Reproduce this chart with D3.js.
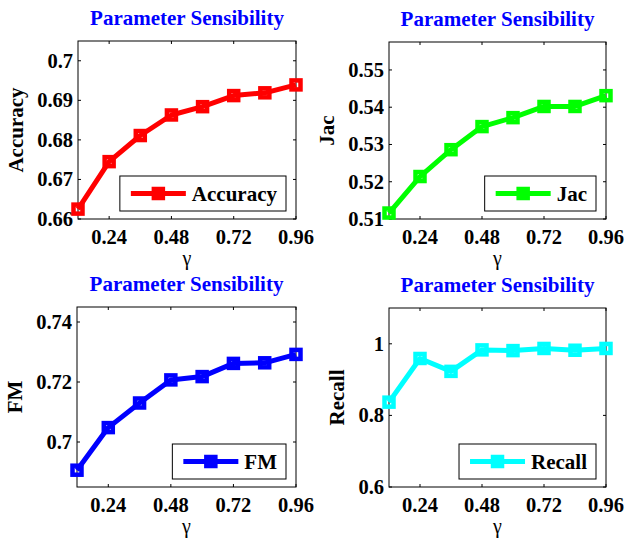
<!DOCTYPE html>
<html>
<head>
<meta charset="utf-8">
<style>
body { margin: 0; background: #fff; }
text { font-family: "Liberation Serif", "Times New Roman", serif; font-weight: bold; }
</style>
</head>
<body>
<svg width="626" height="539"></svg>
<script src="https://cdn.jsdelivr.net/npm/d3@7"></script>
<script>

// gamma values on the x axis
var gamma = [0.12, 0.24, 0.36, 0.48, 0.60, 0.72, 0.84, 0.96];
var xTicks = [0.24, 0.48, 0.72, 0.96];

// one series per panel
var accuracy = [0.6625, 0.6745, 0.6811, 0.6863, 0.6884, 0.6912, 0.6919, 0.6939];
var jac      = [0.5116, 0.5214, 0.5286, 0.5348, 0.5372, 0.5402, 0.5402, 0.5431];
var fm       = [0.6906, 0.7048, 0.7130, 0.7207, 0.7218, 0.7262, 0.7264, 0.7292];
var recall   = [0.837, 0.959, 0.923, 0.983, 0.981, 0.987, 0.982, 0.987];

// y tick labels per panel
var accTicks = [0.66, 0.67, 0.68, 0.69, 0.7];
var jacTicks = [0.51, 0.52, 0.53, 0.54, 0.55];
var fmTicks  = [0.7, 0.72, 0.74];
var recTicks = [0.6, 0.8, 1];

var panels = [
  {name: "Accuracy", values: accuracy, ticks: accTicks, ydom: [0.66, 0.705],  color: "#ff0000", box: [78, 296, 41, 219]},
  {name: "Jac",      values: jac,      ticks: jacTicks, ydom: [0.51, 0.5575], color: "#00ff00", box: [389, 606, 42, 219]},
  {name: "FM",       values: fm,       ticks: fmTicks,  ydom: [0.685, 0.745], color: "#0000ff", box: [77, 296, 307, 487]},
  {name: "Recall",   values: recall,   ticks: recTicks, ydom: [0.6, 1.1],     color: "#00ffff", box: [389, 606, 308, 487]}
];

var svg = d3.select("svg");
svg.append("rect").attr("width", 626).attr("height", 539).attr("fill", "#fff");

var fmt = d3.format("~g");

panels.forEach(function(p) {
  var x0 = p.box[0], x1 = p.box[1], y0 = p.box[2], y1 = p.box[3];
  var x = d3.scaleLinear().domain([0.12, 0.96]).range([x0, x1]);
  var y = d3.scaleLinear().domain(p.ydom).range([y1, y0]);
  var g = svg.append("g");

  // ticks (inside, both sides)
  var tl = 3;
  xTicks.forEach(function(t) {
    g.append("line").attr("x1", x(t)).attr("x2", x(t)).attr("y1", y1).attr("y2", y1 - tl).attr("stroke", "#000");
    g.append("line").attr("x1", x(t)).attr("x2", x(t)).attr("y1", y0).attr("y2", y0 + tl).attr("stroke", "#000");
    g.append("text").attr("x", x(t)).attr("y", y1 + 25).attr("text-anchor", "middle")
      .attr("font-size", "20.5px").text(fmt(t));
  });
  var minLeft = x0;
  p.ticks.forEach(function(t) {
    g.append("line").attr("x1", x0).attr("x2", x0 + tl).attr("y1", y(t)).attr("y2", y(t)).attr("stroke", "#000");
    g.append("line").attr("x1", x1).attr("x2", x1 - tl).attr("y1", y(t)).attr("y2", y(t)).attr("stroke", "#000");
    var lab = g.append("text").attr("x", x0 - 5).attr("y", y(t) + 7).attr("text-anchor", "end")
      .attr("font-size", "20.5px").text(fmt(t));
    minLeft = Math.min(minLeft, x0 - 5 - lab.node().getComputedTextLength());
  });

  // box
  g.append("rect").attr("x", x0).attr("y", y0).attr("width", x1 - x0).attr("height", y1 - y0)
    .attr("fill", "none").attr("stroke", "#000").attr("stroke-width", 1);

  // title and labels
  g.append("text").attr("x", (x0 + x1) / 2).attr("y", y0 - 16).attr("text-anchor", "middle")
    .attr("font-size", "21px").attr("fill", "#0000ff").text("Parameter Sensibility");
  g.append("text").attr("x", (x0 + x1) / 2).attr("y", y1 + 46).attr("text-anchor", "middle")
    .attr("font-size", "20px").style("font-weight", "normal").text("γ");
  g.append("text")
    .attr("transform", "translate(" + (minLeft - 14) + "," + ((y0 + y1) / 2) + ") rotate(-90)")
    .attr("text-anchor", "middle").attr("font-size", "21px").text(p.name);

  // series
  var line = d3.line().x(function(d, i) { return x(gamma[i]); }).y(function(d) { return y(d); });
  g.append("path").datum(p.values).attr("d", line).attr("fill", "none")
    .attr("stroke", p.color).attr("stroke-width", 5).attr("stroke-linejoin", "round");
  g.selectAll(".mk").data(p.values).enter().append("rect")
    .attr("x", function(d, i) { return x(gamma[i]) - 4.5; })
    .attr("y", function(d) { return y(d) - 4.5; })
    .attr("width", 9).attr("height", 9)
    .attr("fill", "none").attr("stroke", p.color).attr("stroke-width", 4.5);

  // legend
  var lg = g.append("g");
  var lt = lg.append("text").attr("font-size", "21px").text(p.name);
  var tw = lt.node().getComputedTextLength();
  var lw = 11 + 55 + 6 + tw + 9, lh = 35;
  var lx = x1 - 10 - lw, ly = y1 - 8 - lh;
  lg.insert("rect", "text").attr("x", lx).attr("y", ly).attr("width", lw).attr("height", lh)
    .attr("fill", "#fff").attr("stroke", "#000").attr("stroke-width", 1);
  var cy = ly + lh / 2;
  lg.append("line").attr("x1", lx + 11).attr("x2", lx + 66).attr("y1", cy).attr("y2", cy)
    .attr("stroke", p.color).attr("stroke-width", 5);
  lg.append("rect").attr("x", lx + 38.5 - 4.5).attr("y", cy - 4.5).attr("width", 9).attr("height", 9)
    .attr("fill", "none").attr("stroke", p.color).attr("stroke-width", 4.5);
  lt.attr("x", lx + 72).attr("y", cy + 7);
});

</script>
</body>
</html>
